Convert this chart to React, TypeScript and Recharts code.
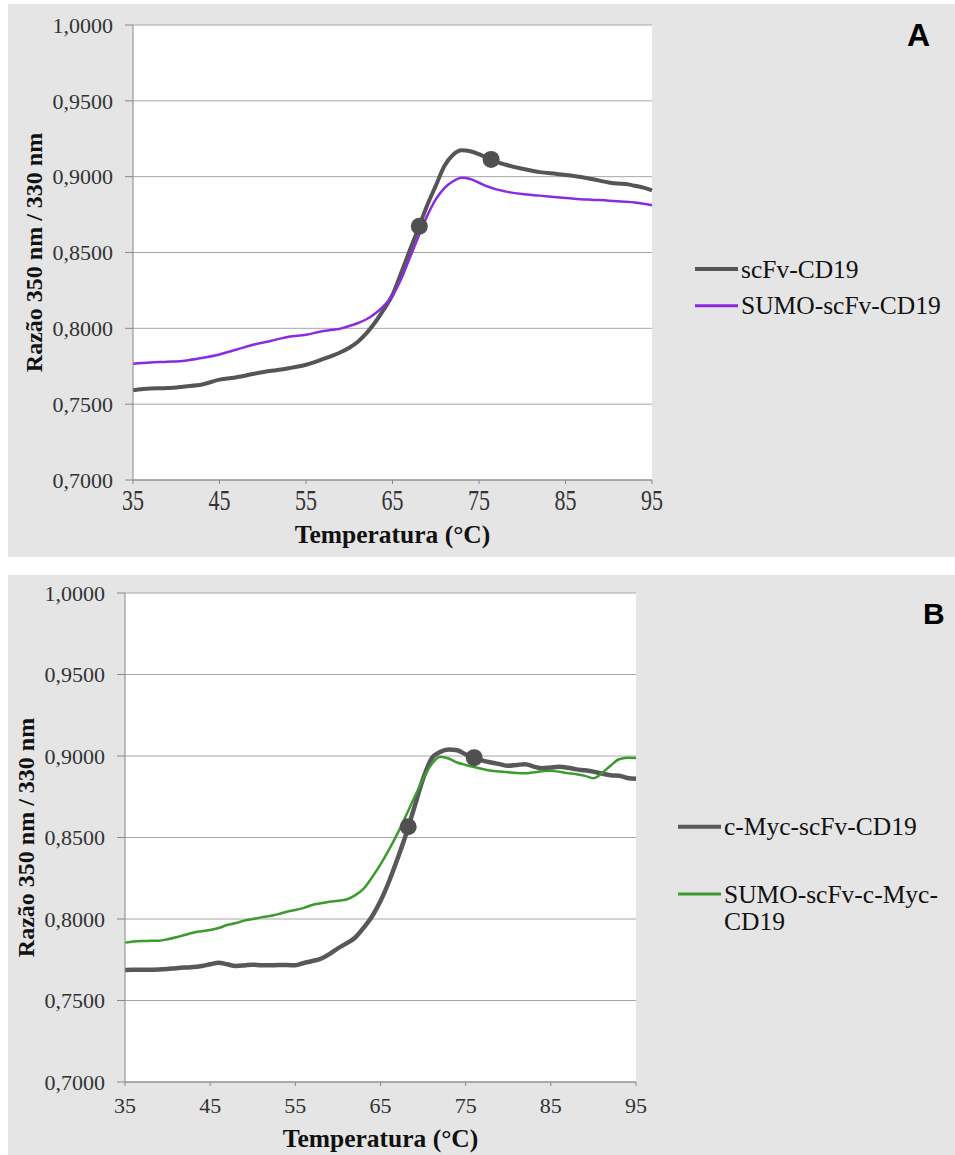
import React from "react";
import { LineChart, Line, XAxis, YAxis, CartesianGrid, Label } from "recharts";

// Panel A – scFv-CD19 vs SUMO-scFv-CD19
const tempsA = [35, 37, 39, 41, 43, 45, 47, 49, 51, 53, 55, 57, 58, 59, 60, 61, 62, 63, 64, 65, 66, 67, 68, 69, 70, 71, 72, 73, 74, 75, 76, 77, 78, 80, 82, 84, 86, 88, 90, 91, 92, 93, 94, 95];
const scfvA = [0.7592, 0.7603, 0.7606, 0.7617, 0.7630, 0.7662, 0.7678, 0.7700, 0.7720, 0.7737, 0.7760, 0.7798, 0.7818, 0.7842, 0.7872, 0.7912, 0.7968, 0.8040, 0.8125, 0.8220, 0.8365, 0.8515, 0.8660, 0.8810, 0.8940, 0.9070, 0.9145, 0.9175, 0.9168, 0.9148, 0.9122, 0.9098, 0.9080, 0.9052, 0.9030, 0.9018, 0.9005, 0.8985, 0.8962, 0.8955, 0.8952, 0.8940, 0.8928, 0.8910];
const sumoA = [0.7767, 0.7775, 0.7780, 0.7787, 0.7805, 0.7828, 0.7860, 0.7893, 0.7918, 0.7945, 0.7958, 0.7982, 0.7990, 0.7998, 0.8015, 0.8035, 0.8060, 0.8098, 0.8148, 0.8215, 0.8325, 0.8465, 0.8605, 0.8740, 0.8850, 0.8925, 0.8970, 0.8993, 0.8985, 0.8960, 0.8935, 0.8916, 0.8903, 0.8885, 0.8875, 0.8865, 0.8855, 0.8848, 0.8842, 0.8838, 0.8835, 0.8830, 0.8822, 0.8812];
const markTempsA = [68.1, 76.4];
const markValsA = [0.8673, 0.9114];

// Panel B – c-Myc-scFv-CD19 vs SUMO-scFv-c-Myc-CD19
const tempsB = [35, 36, 37, 38, 39, 40, 41, 42, 43, 44, 45, 46, 47, 48, 49, 50, 51, 52, 53, 54, 55, 56, 57, 58, 59, 60, 61, 62, 63, 64, 65, 66, 67, 68, 69, 70, 71, 72, 73, 74, 75, 76, 77, 78, 79, 80, 81, 82, 83, 84, 85, 86, 87, 88, 89, 90, 91, 92, 93, 94, 95];
const mycB = [0.7687, 0.7688, 0.7688, 0.7689, 0.7690, 0.7693, 0.7698, 0.7702, 0.7705, 0.7712, 0.7722, 0.7732, 0.7722, 0.7712, 0.7715, 0.7720, 0.7716, 0.7716, 0.7718, 0.7718, 0.7716, 0.7730, 0.7742, 0.7756, 0.7785, 0.7820, 0.7850, 0.7885, 0.7945, 0.8015, 0.8110, 0.8230, 0.8370, 0.8520, 0.8690, 0.8860, 0.8985, 0.9025, 0.9040, 0.9035, 0.9010, 0.8990, 0.8972, 0.8960, 0.8950, 0.8940, 0.8945, 0.8950, 0.8935, 0.8925, 0.8930, 0.8934, 0.8928, 0.8918, 0.8912, 0.8904, 0.8892, 0.8882, 0.8879, 0.8865, 0.8860];
const sumoMycB = [0.7855, 0.7862, 0.7865, 0.7866, 0.7867, 0.7876, 0.7888, 0.7902, 0.7916, 0.7925, 0.7933, 0.7945, 0.7963, 0.7975, 0.7990, 0.8000, 0.8010, 0.8018, 0.8030, 0.8045, 0.8055, 0.8068, 0.8086, 0.8096, 0.8106, 0.8112, 0.8120, 0.8145, 0.8185, 0.8255, 0.8335, 0.8425, 0.8525, 0.8635, 0.8748, 0.8860, 0.8950, 0.8996, 0.8985, 0.8960, 0.8945, 0.8932, 0.8920, 0.8910, 0.8905, 0.8900, 0.8896, 0.8894, 0.8900, 0.8906, 0.8910, 0.8903, 0.8895, 0.8888, 0.8878, 0.8864, 0.8895, 0.8940, 0.8980, 0.8990, 0.8987];
const markTempsB = [68.25, 76.0];
const markValsB = [0.8566, 0.8990];

const yTicks = [0.7, 0.75, 0.8, 0.85, 0.9, 0.95, 1.0];
const xTicks = [35, 45, 55, 65, 75, 85, 95];
const yTitle = "Razão 350 nm / 330 nm";
const xTitle = "Temperatura (°C)";

const SERIF = "'Liberation Serif', 'Times New Roman', serif";
const SANS = "'Liberation Sans', Arial, sans-serif";
const BG = "#e5e5e5";
const fmt = (v: number) => v.toFixed(4).replace(".", ",");

function XTick({ x, y, payload, sy, base }: any) {
  const axisY = y - 4;
  return (
    <g transform={`translate(${x},${axisY + base}) scale(1,${sy})`}>
      <text x={0} y={0} textAnchor="middle" fontFamily={SERIF} fontSize={22} fill="#333">
        {payload.value}
      </text>
    </g>
  );
}

type Legend = { name: string[]; color: string; width: number };

function Panel(props: {
  top: number; height: number; plot: { l: number; t: number; r: number; b: number };
  temps: number[]; a: number[]; b: number[]; colorA: string; colorB: string;
  widthA: number; widthB: number; markT: number[]; markV: number[];
  legend: Legend[]; legendX: number; legendY: number[]; letter: string; letterPos: [number, number, number];
  yTitleX: number; xTitleY: number; tickSy: number; tickBase: number;
}) {
  const W = 947;
  const { plot } = props;
  const rows = props.temps.map((t, i) => ({ t, a: props.a[i], b: props.b[i] }));
  const marks = props.markT.map((t, i) => ({ t, m: props.markV[i] }));
  const cy = (plot.t + plot.b) / 2;
  const cx = (plot.l + plot.r) / 2;
  return (
    <div style={{ position: "absolute", left: 8, top: props.top, width: W, height: props.height, background: BG }}>
      <LineChart
        width={W}
        height={props.height}
        data={rows}
        margin={{ top: plot.t, right: W - plot.r, bottom: props.height - plot.b - 60, left: 0 }}
      >
        <CartesianGrid vertical={false} stroke="#a6a6a6" fill="#ffffff" />
        <XAxis
          type="number"
          dataKey="t"
          domain={[35, 95]}
          ticks={xTicks}
          interval={0}
          height={60}
          tickSize={4}
          tickMargin={0}
          axisLine={{ stroke: "#888" }}
          tickLine={{ stroke: "#888" }}
          tick={(p: any) => <XTick {...p} sy={props.tickSy} base={props.tickBase} />}
        >
          <Label
            content={() => (
              <text x={cx} y={props.xTitleY} textAnchor="middle" fontFamily={SERIF} fontWeight="bold" fontSize={25.5} fill="#111">
                {xTitle}
              </text>
            )}
          />
        </XAxis>
        <YAxis
          type="number"
          domain={[0.7, 1.0]}
          ticks={yTicks}
          interval={0}
          width={plot.l}
          tickSize={8}
          tickMargin={12}
          tickFormatter={fmt}
          axisLine={{ stroke: "#888" }}
          tickLine={{ stroke: "#888" }}
          tick={{ fontFamily: SERIF, fontSize: 22, fill: "#333" }}
        >
          <Label
            content={() => (
              <text
                x={props.yTitleX}
                y={cy}
                dy="0.35em"
                textAnchor="middle"
                transform={`rotate(-90, ${props.yTitleX}, ${cy})`}
                fontFamily={SERIF}
                fontWeight="bold"
                fontSize={24}
                fill="#111"
              >
                {yTitle}
              </text>
            )}
          />
        </YAxis>
        <Line type="monotone" dataKey="a" stroke={props.colorA} strokeWidth={props.widthA} dot={false} isAnimationActive={false} />
        <Line type="monotone" dataKey="b" stroke={props.colorB} strokeWidth={props.widthB} dot={false} isAnimationActive={false} />
        <Line
          data={marks}
          dataKey="m"
          stroke="none"
          dot={{ r: 8.5, fill: "#505050", stroke: "none" }}
          isAnimationActive={false}
        />
      </LineChart>
      <svg width={W} height={props.height} style={{ position: "absolute", left: 0, top: 0, pointerEvents: "none" }}>
        {props.legend.map((it, i) => (
          <g key={i}>
            <line x1={props.legendX} x2={props.legendX + 43} y1={props.legendY[i]} y2={props.legendY[i]} stroke={it.color} strokeWidth={it.width} />
            {it.name.map((ln, j) => (
              <text key={j} x={props.legendX + 46} y={props.legendY[i] + 8.5 + j * 27.6} fontFamily={SERIF} fontSize={25.5} fill="#111">
                {ln}
              </text>
            ))}
          </g>
        ))}
        <text x={props.letterPos[0]} y={props.letterPos[1]} fontFamily={SANS} fontWeight="bold" fontSize={props.letterPos[2]} fill="#000">
          {props.letter}
        </text>
      </svg>
    </div>
  );
}

export default function App() {
  return (
    <div style={{ position: "absolute", left: 0, top: 0, width: 955, height: 1155, overflow: "hidden" }}>
      <Panel
        top={4}
        height={553}
        plot={{ l: 125, t: 21, r: 644, b: 476 }}
        temps={tempsA}
        a={scfvA}
        b={sumoA}
        colorA="#555555"
        colorB="#8A2BE2"
        widthA={4}
        widthB={2.5}
        markT={markTempsA}
        markV={markValsA}
        legend={[
          { name: ["scFv-CD19"], color: "#555555", width: 4 },
          { name: ["SUMO-scFv-CD19"], color: "#8A2BE2", width: 3 },
        ]}
        legendX={687}
        legendY={[265, 301.7]}
        letter="A"
        letterPos={[899, 41.7, 32]}
        yTitleX={26}
        xTitleY={539}
        tickSy={1.3}
        tickBase={30}
      />
      <Panel
        top={575}
        height={580}
        plot={{ l: 117, t: 18, r: 628, b: 507 }}
        temps={tempsB}
        a={mycB}
        b={sumoMycB}
        colorA="#58585a"
        colorB="#3C9A2E"
        widthA={4.5}
        widthB={2.5}
        markT={markTempsB}
        markV={markValsB}
        legend={[
          { name: ["c-Myc-scFv-CD19"], color: "#58585a", width: 4 },
          { name: ["SUMO-scFv-c-Myc-", "CD19"], color: "#3C9A2E", width: 3 },
        ]}
        legendX={670}
        legendY={[251.7, 319]}
        letter="B"
        letterPos={[915, 49, 30]}
        yTitleX={18}
        xTitleY={572}
        tickSy={1}
        tickBase={31}
      />
    </div>
  );
}
